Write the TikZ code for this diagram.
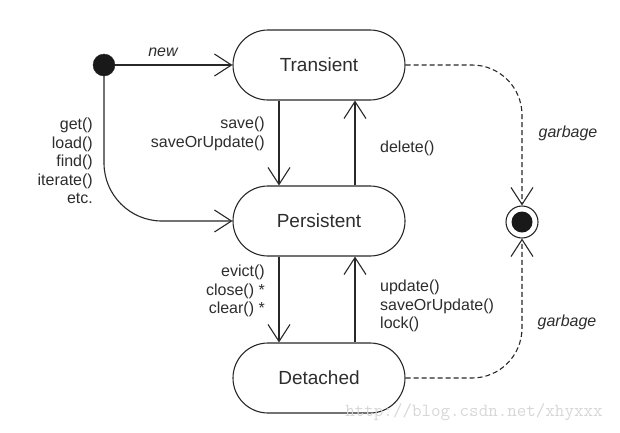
\documentclass[tikz,border=0pt]{standalone}
\usepackage{fontspec}
\setmainfont{Liberation Sans}
\usetikzlibrary{arrows.meta}
\definecolor{lineGray}{RGB}{40,40,40}
\definecolor{textGray}{RGB}{45,45,45}
\definecolor{markGray}{RGB}{215,215,215}
\tikzset{
  state/.style={draw=lineGray,line width=1.1pt,rounded corners=35pt,minimum width=172pt,minimum height=70pt,font=\fontsize{19}{22}\selectfont,text=textGray},
  lbl/.style={font=\fontsize{16}{18.5}\selectfont,text=textGray,inner sep=0pt},
  arr/.style={draw=lineGray,line width=1.1pt,-{Straight Barb[length=17pt,width=22pt,line width=1.1pt]}},
  garb/.style={arr,dash pattern=on 5pt off 3pt,rounded corners=50pt}
}

\begin{document}
\begin{tikzpicture}[x=1pt,y=-1pt]
\useasboundingbox (0,0) rectangle (620,432);
\node[circle,fill=black!90,draw=lineGray,minimum size=22pt,inner sep=0pt] (start) at (104,65) {};
\node[circle,draw=lineGray,line width=1.1pt,minimum size=32pt,inner sep=0pt] (final) at (522,222) {};
\node[circle,fill=black!90,minimum size=21pt,inner sep=0pt] (finaldot) at (522,222) {};

\node[state] (trans) at (319,65) {Transient};
\node[state] (persist) at (319,221) {Persistent};
\node[state] (detach) at (319,378) {Detached};

\draw[arr] (start) -- (trans);
\draw[arr,rounded corners=58pt] (start) |- (persist);
\draw[arr] ([xshift=-40pt]trans.south) -- ([xshift=-40pt]persist.north);
\draw[arr] ([xshift=36pt]persist.north) -- ([xshift=36pt]trans.south);
\draw[arr] ([xshift=-40pt]persist.south) -- ([xshift=-40pt]detach.north);
\draw[arr] ([xshift=36pt]detach.north) -- ([xshift=36pt]persist.south);
\draw[garb] (trans) -| (final);
\draw[garb] (detach) -| (final);

\node[lbl,font=\fontsize{16}{18.5}\selectfont\itshape] (newlbl) at (163,52) {new};
\node[lbl,align=right,anchor=east] (loadlbl) at (93,161) {get()\\load()\\find()\\iterate()\\etc.};
\node[lbl,align=right,anchor=east] (savelbl) at (265,134) {save()\\saveOrUpdate()};
\node[lbl,anchor=west] (dellbl) at (380,148) {delete()};
\node[lbl,align=right,anchor=east] (evictlbl) at (265,291) {evict()\\close() *\\clear() *};
\node[lbl,align=left,anchor=west] (updlbl) at (380,306) {update()\\saveOrUpdate()\\lock()};
\node[lbl,font=\fontsize{16}{18.5}\selectfont\itshape] (garb1) at (568,133) {garbage};
\node[lbl,font=\fontsize{16}{18.5}\selectfont\itshape] (garb2) at (567,322) {garbage};

\node[lbl,text=markGray,font=\ttfamily\fontsize{18.5}{20}\selectfont] (mark) at (474,412) {http://blog.csdn.net/xhyxxx};
\end{tikzpicture}
\end{document}
